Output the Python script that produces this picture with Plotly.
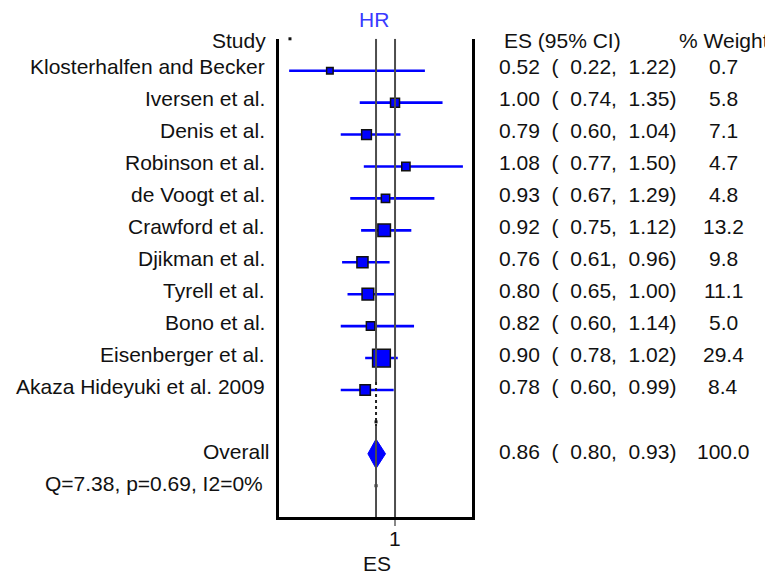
import math
import plotly.graph_objects as go

# ---------------- data ----------------
studies = ["Klosterhalfen and Becker", "Iversen et al.", "Denis et al.", "Robinson et al.",
           "de Voogt et al.", "Crawford et al.", "Djikman et al.", "Tyrell et al.",
           "Bono et al.", "Eisenberger et al.", "Akaza Hideyuki et al. 2009"]
es = [0.52, 1.00, 0.79, 1.08, 0.93, 0.92, 0.76, 0.80, 0.82, 0.90, 0.78]
ci_low = [0.22, 0.74, 0.60, 0.77, 0.67, 0.75, 0.61, 0.65, 0.60, 0.78, 0.60]
ci_high = [1.22, 1.35, 1.04, 1.50, 1.29, 1.12, 0.96, 1.00, 1.14, 1.02, 0.99]
weights = [0.7, 5.8, 7.1, 4.7, 4.8, 13.2, 9.8, 11.1, 5.0, 29.4, 8.4]
overall = {"label": "Overall", "es": 0.86, "low": 0.80, "high": 0.93, "weight": 100.0}
het_text = "Q=7.38, p=0.69, I2=0%"
null_value = 1
x_tick_vals = [1]
x_tick_text = ["1"]

# ---------------- styling ----------------
OFF = 8                     # page body margin of the html
FW, FH = 773 - OFF, 576 - OFF
FONT = "Liberation Sans, Arial, sans-serif"
FS = 21
TXT = "#111111"
BLUE = "#0000ff"
NB = "\u00a0"

n = len(studies)
rows = list(range(n))
row_overall = n + 1
row_het = n + 2

def px_x(p):
    return (p - OFF) / FW

def px_y(p):
    return 1 - (p - OFF) / FH

fig = go.Figure()

# CI lines
cx, cy = [], []
for r, lo, hi in zip(rows, ci_low, ci_high):
    cx += [lo, hi, None]
    cy += [r, r, None]
fig.add_trace(go.Scatter(x=cx, y=cy, mode="lines", line=dict(color=BLUE, width=2.6),
                         hoverinfo="skip", showlegend=False, cliponaxis=False))

# weighted squares
sizes = [max(6.5, 2.9 * math.sqrt(w) + 2) for w in weights]
fig.add_trace(go.Scatter(x=es, y=rows, mode="markers",
                         marker=dict(symbol="square", size=sizes, color=BLUE, opacity=1,
                                     line=dict(color="#111111", width=1.5)),
                         showlegend=False, cliponaxis=False))

# overall diamond
dh = 0.46
fig.add_trace(go.Scatter(
    x=[overall["low"], overall["es"], overall["high"], overall["es"], overall["low"]],
    y=[row_overall, row_overall - dh, row_overall, row_overall + dh, row_overall],
    mode="lines", fill="toself", fillcolor=BLUE, line=dict(color=BLUE, width=1),
    showlegend=False, hoverinfo="skip"))

ytop, ybot = -1.0, 13.98

# vertical reference lines
shapes = []
shapes.append(dict(type="line", xref="x", yref="y", x0=null_value, x1=null_value,
                   y0=ytop, y1=ybot, line=dict(color="#4d4d4d", width=2)))
shapes.append(dict(type="line", xref="x", yref="y", x0=overall["es"], x1=overall["es"],
                   y0=ytop, y1=9.75, line=dict(color="#4d4d4d", width=2)))
shapes.append(dict(type="line", xref="x", yref="y", x0=overall["es"], x1=overall["es"],
                   y0=9.75, y1=11.15, line=dict(color="#222222", width=2, dash="dot")))
shapes.append(dict(type="line", xref="x", yref="y", x0=overall["es"], x1=overall["es"],
                   y0=11.15, y1=ybot, line=dict(color="#4d4d4d", width=2)))

# small artefact dots
fig.add_trace(go.Scatter(x=[overall["es"], overall["es"], 0.226], y=[n, row_het, ytop],
                         mode="markers", marker=dict(symbol="square", size=3, color="#111"),
                         showlegend=False, cliponaxis=False, hoverinfo="skip"))

ann = []
def add_text(text, x, y, xanchor, yref="y", xref="paper", color=TXT, size=FS):
    ann.append(dict(text=text, x=x, y=y, xref=xref, yref=yref, xanchor=xanchor,
                    yanchor="middle", showarrow=False,
                    font=dict(family=FONT, size=size, color=color)))

# headers
hdr = -0.96
add_text("Study", px_x(268), hdr, "right")
add_text("ES (95% CI)", px_x(502), hdr, "left")
add_text("% Weight", px_x(724), hdr, "center")

# rows
for r, s, e, lo, hi, w in zip(rows, studies, es, ci_low, ci_high, weights):
    add_text(s, px_x(267), r - 0.12, "right")
    txt = f"{e:.2f}{NB}{NB}({NB}{NB}{lo:.2f},{NB}{NB}{hi:.2f})"
    add_text(txt, px_x(497), r - 0.12, "left")
    add_text(f"{w:.1f}", px_x(723), r - 0.12, "center")

yo = row_overall - 0.06
add_text(overall["label"], px_x(272), yo, "right")
add_text(f"{overall['es']:.2f}{NB}{NB}({NB}{NB}{overall['low']:.2f},{NB}{NB}{overall['high']:.2f})",
         px_x(497), yo, "left")
add_text(f"{overall['weight']:.1f}", px_x(723), yo, "center")
add_text(het_text, px_x(265), row_het - 0.08, "right")

# x tick labels (drawn as text at the tick values)
for tv, tt in zip(x_tick_vals, x_tick_text):
    add_text(tt, tv, px_y(538), "center", xref="x", yref="paper")

# titles
add_text("HR", px_x(374), px_y(19.5), "center", yref="paper", color="#3a3aff")
add_text("ES", px_x(377), px_y(563), "center", yref="paper")

fig.update_layout(
    width=FW, height=FH, margin=dict(l=0, r=0, t=0, b=0),
    paper_bgcolor="white", plot_bgcolor="white",
    shapes=shapes, annotations=ann, showlegend=False,
    xaxis=dict(domain=[px_x(279), px_x(472)], range=[0.1452, 1.567],
               showline=True, linewidth=3, linecolor="black",
               tickvals=x_tick_vals, showticklabels=False, ticks="outside",
               ticklen=6, tickwidth=1.5, tickcolor="#888888",
               showgrid=False, zeroline=False, fixedrange=True),
    yaxis=dict(domain=[1 - (517 - OFF) / FH, 1 - (38.8 - OFF) / FH], range=[ybot, ytop],
               showline=True, mirror=True, linewidth=3, linecolor="black",
               showticklabels=False, ticks="", showgrid=False, zeroline=False,
               fixedrange=True),
)

fig.write_html("out.html")
